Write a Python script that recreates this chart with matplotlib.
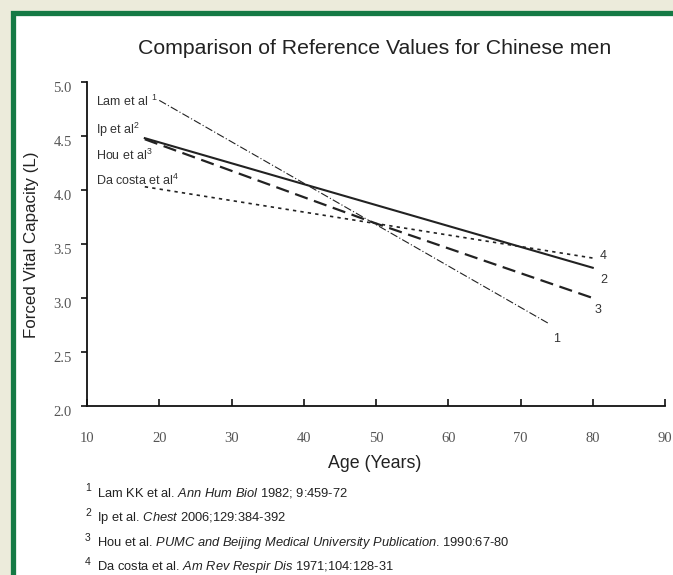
import matplotlib
matplotlib.use('Agg')
import matplotlib.pyplot as plt
import matplotlib.transforms as mtransforms
from matplotlib.patches import Rectangle

plt.rcParams['font.family'] = 'Liberation Sans'
plt.rcParams['mathtext.fontset'] = 'custom'
plt.rcParams['mathtext.rm'] = 'Liberation Sans'
plt.rcParams['mathtext.it'] = 'Liberation Sans:italic'

# Data: age (years) and FVC (L) at the ends of each line
lam_age = [20, 74]
lam_fvc = [4.83, 2.76]
ip_age = [18, 80]
ip_fvc = [4.48, 3.28]
hou_age = [18, 50, 80]
hou_fvc = [4.47, 3.69, 3.00]
dac_age = [18, 80]
dac_fvc = [4.03, 3.37]

x_ticks = [10, 20, 30, 40, 50, 60, 70, 80, 90]
y_ticks = [2.0, 2.5, 3.0, 3.5, 4.0, 4.5, 5.0]

refs = [
    ('1', r'Lam KK et al. $\it{Ann\ Hum\ Biol}$ 1982; 9:459-72'),
    ('2', r'Ip et al. $\it{Chest}$ 2006;129:384-392'),
    ('3', r'Hou et al. $\it{PUMC\ and\ Beijing\ Medical\ University\ Publication}$. 1990:67-80'),
    ('4', r'Da costa et al. $\it{Am\ Rev\ Respir\ Dis}$ 1971;104:128-31'),
]

W, H = 673, 575
fig = plt.figure(figsize=(W / 100, H / 100), dpi=100, facecolor='#ecebdb')

# white card with green frame
fig.patches.append(Rectangle((12.5 / W, -0.1), 1.2, 1 - 12.5 / H + 0.1, transform=fig.transFigure,
                             facecolor='white', edgecolor='#157a45', linewidth=3.8, zorder=-5))

ax = fig.add_axes([87 / W, (H - 406) / H, 578 / W, 324 / H])
ax.set_facecolor('none')
ax.set_zorder(2)

lc = '#222222'
ax.plot(lam_age, lam_fvc, color=lc, lw=0.8, linestyle=(0, (7, 2, 1, 2)))
ax.plot(ip_age, ip_fvc, color=lc, lw=1.5)
ax.plot(hou_age, hou_fvc, color=lc, lw=1.6, linestyle=(0, (6, 3)))
ax.plot(dac_age, dac_fvc, color=lc, lw=1.2, linestyle=(0, (2, 2.5)))

ax.set_xlim(10, 90)
ax.set_ylim(2.0, 5.0)
ax.set_xticks(x_ticks)
ax.set_yticks(y_ticks)
ax.set_xticklabels([str(t) for t in x_ticks])
ax.set_yticklabels(['%.1f' % t for t in y_ticks])
for s in ['top', 'right']:
    ax.spines[s].set_visible(False)
for s in ['left', 'bottom']:
    ax.spines[s].set_linewidth(1.3)
    ax.spines[s].set_color('#111111')
ax.tick_params(axis='x', direction='in', length=5, width=1.2, pad=19, colors='#111111')
ax.tick_params(axis='y', direction='out', length=4, width=1.2, pad=7, colors='#111111')
# y tick labels sit a few pixels below their ticks in the original
shift = mtransforms.ScaledTranslation(0, -5 / 100, fig.dpi_scale_trans)
for lab in ax.get_yticklabels():
    lab.set_transform(lab.get_transform() + shift)
for lab in ax.get_xticklabels() + ax.get_yticklabels():
    lab.set_fontfamily('Liberation Serif')
    lab.set_fontsize(10.5)
    lab.set_color('#555555')

# labels in the plot
fs = 9
ax.text(11.3, 4.82, r'Lam et al $^{1}$', fontsize=fs, va='center', color='#333333')
ax.text(11.3, 4.56, r'Ip et al$^{2}$', fontsize=fs, va='center', color='#333333')
ax.text(11.3, 4.32, r'Hou et al$^{3}$', fontsize=fs, va='center', color='#333333')
ax.text(11.3, 4.09, r'Da costa et al$^{4}$', fontsize=fs, va='center', color='#333333')

ax.text(81.0, 3.39, '4', fontsize=fs, va='center', color='#333333')
ax.text(81.0, 3.17, '2', fontsize=fs, va='center', color='#333333')
ax.text(80.3, 2.89, '3', fontsize=fs, va='center', color='#333333')
ax.text(74.5, 2.62, '1', fontsize=fs, va='center', color='#333333')

fig.text(375 / W, 1 - 48 / H, 'Comparison of Reference Values for Chinese men', fontsize=15.3,
         ha='center', va='center', color='#222222')
fig.text(375 / W, 1 - 463 / H, 'Age (Years)', fontsize=12.8, ha='center', va='center', color='#222222')
fig.text(32 / W, 1 - 245 / H, 'Forced Vital Capacity (L)', fontsize=12.2, rotation=90,
         ha='center', va='center', color='#222222')

# references
ref_y = [493, 518, 543, 567]
for (num, txt), yy in zip(refs, ref_y):
    fig.text(85 / W, 1 - (yy - 5) / H, num, fontsize=7.5, ha='left', va='center', color='#222222')
    fig.text(97 / W, 1 - yy / H, txt, fontsize=9.3, ha='left', va='center', color='#222222')

fig.savefig('out.png', dpi=100, facecolor=fig.get_facecolor())
